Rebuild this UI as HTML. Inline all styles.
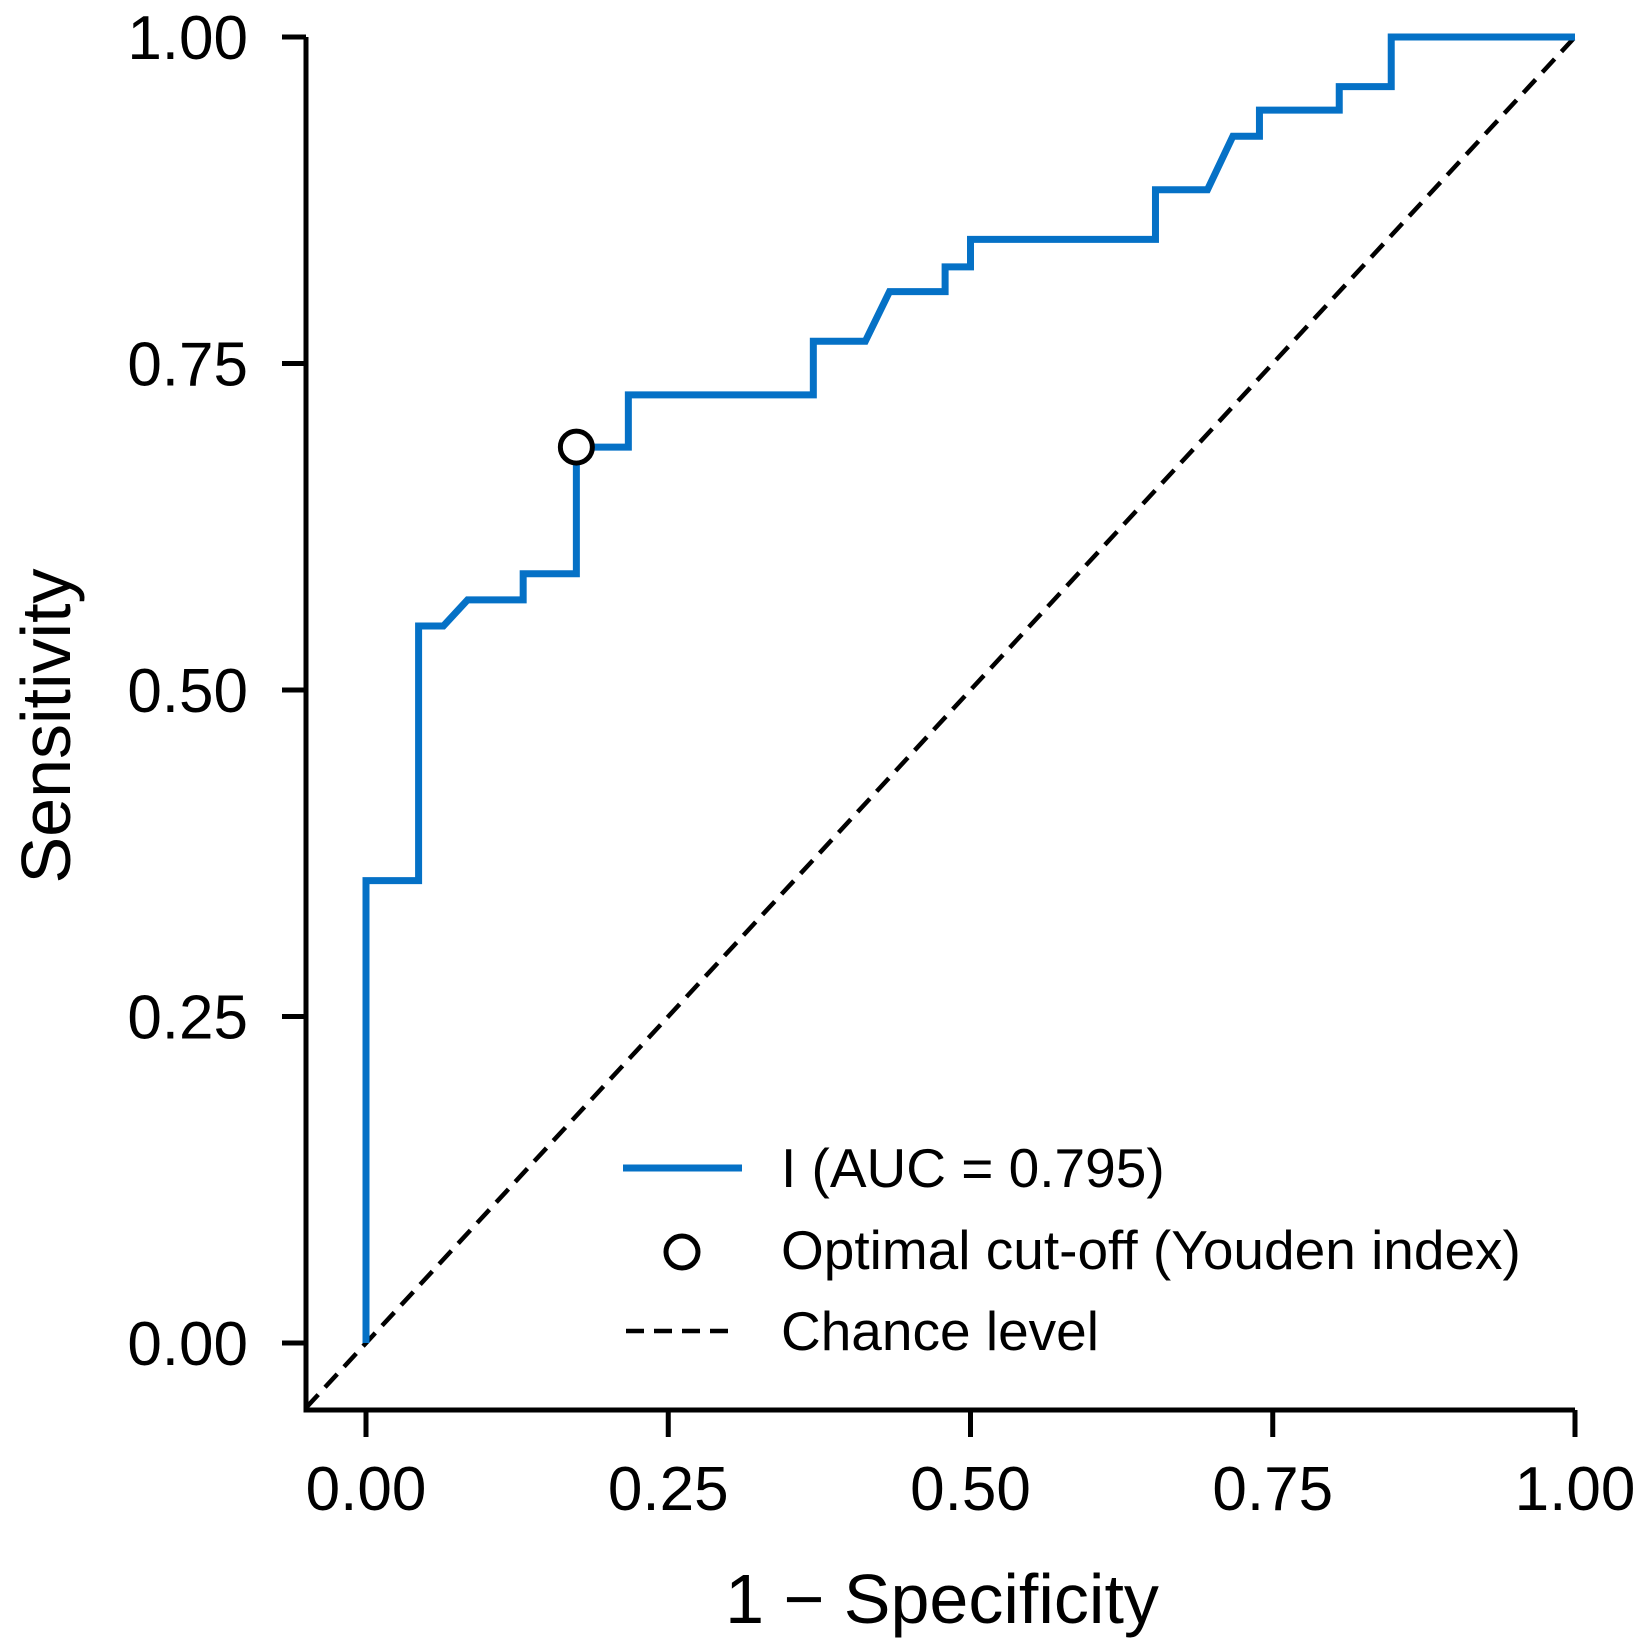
<!DOCTYPE html>
<html><head><meta charset="utf-8"><style>
html,body{margin:0;padding:0;background:#fff;}
svg{display:block;font-family:"Liberation Sans",Arial,sans-serif;}
</style></head><body>
<svg id="chart" width="1644" height="1648" viewBox="0 0 1644 1648" xmlns="http://www.w3.org/2000/svg"></svg>
<script>
const fprValues=[0,0,0.0435,0.0435,0.064,0.084,0.130,0.130,0.174,0.174,0.217,0.217,0.370,0.370,0.413,0.433,0.479,0.479,0.500,0.500,0.653,0.653,0.696,0.717,0.739,0.739,0.805,0.805,0.848,0.848,1.0];
const tprValues=[0,0.354,0.354,0.549,0.549,0.569,0.569,0.589,0.589,0.686,0.686,0.726,0.726,0.767,0.767,0.805,0.805,0.824,0.824,0.845,0.845,0.883,0.883,0.924,0.924,0.944,0.944,0.962,0.962,1.0,1.0];
const optimalPoint=[0.174,0.686];
const tickValues=[0,0.25,0.5,0.75,1];
const tickLabels=["0.00","0.25","0.50","0.75","1.00"];
const legendLabels=["I (AUC = 0.795)","Optimal cut-off (Youden index)","Chance level"];

const NS="http://www.w3.org/2000/svg";
const svg=document.getElementById('chart');
const X0=366,X1=1575,Y0=1343,Y1=37;
const xs=v=>X0+v*(X1-X0);
const ys=v=>Y0-v*(Y0-Y1);
function mk(tag,attrs,parent){const e=document.createElementNS(NS,tag);for(const k in attrs)e.setAttribute(k,attrs[k]);(parent||svg).appendChild(e);return e;}

let ax=mk('path',{d:`M306 ${Y1} V1410 H${X1}`,fill:'none',stroke:'#000','stroke-width':5});


tickValues.forEach((v,i)=>{
  let t=mk('line',{x1:282,x2:306,y1:ys(v),y2:ys(v),stroke:'#000','stroke-width':5});
  
  
  let l=mk('text',{x:248,y:ys(v)+22,'text-anchor':'end','font-size':62});
  l.textContent=tickLabels[i];
  
  
  let t2=mk('line',{x1:xs(v),x2:xs(v),y1:1410,y2:1437,stroke:'#000','stroke-width':5});
  
  
  let l2=mk('text',{x:xs(v),y:1510,'text-anchor':'middle','font-size':62});
  l2.textContent=tickLabels[i];
  
  
});
let xt=mk('text',{x:942,y:1623,'text-anchor':'middle','font-size':70});
xt.textContent='1 − Specificity';


let yt=mk('text',{x:0,y:0,'text-anchor':'middle','font-size':70,transform:'translate(70,726) rotate(-90)'});
yt.textContent='Sensitivity';



let ch=mk('line',{x1:306,y1:0,x2:xs(1),y2:ys(1),stroke:'#000','stroke-width':4.5,'stroke-dasharray':'18 10'});
ch.setAttribute('y1',Y0+(X0-306)*(Y0-Y1)/(X1-X0));



let d=fprValues.map((f,i)=>(i?'L':'M')+xs(f)+' '+ys(tprValues[i])).join(' ');
let roc=mk('path',{d,fill:'none',stroke:'#0571c6','stroke-width':7,'stroke-linejoin':'miter'});


let op=mk('circle',{cx:xs(optimalPoint[0]),cy:ys(optimalPoint[1]),r:16,fill:'#fff',stroke:'#000','stroke-width':5});



let lg=mk('g',{});


let l1=mk('line',{x1:623,x2:742,y1:1168,y2:1168,stroke:'#0571c6','stroke-width':7},lg);


let l2=mk('circle',{cx:682,cy:1252,r:16,fill:'#fff',stroke:'#000','stroke-width':5},lg);


let l3=mk('line',{x1:626,x2:737,y1:1331,y2:1331,stroke:'#000','stroke-width':4.5,'stroke-dasharray':'18 10'},lg);


[1187,1269,1350].forEach((y,i)=>{
  let t=mk('text',{x:781,y:y,'font-size':55},lg);
  t.textContent=legendLabels[i];
  
  
});
</script>
</body></html>
